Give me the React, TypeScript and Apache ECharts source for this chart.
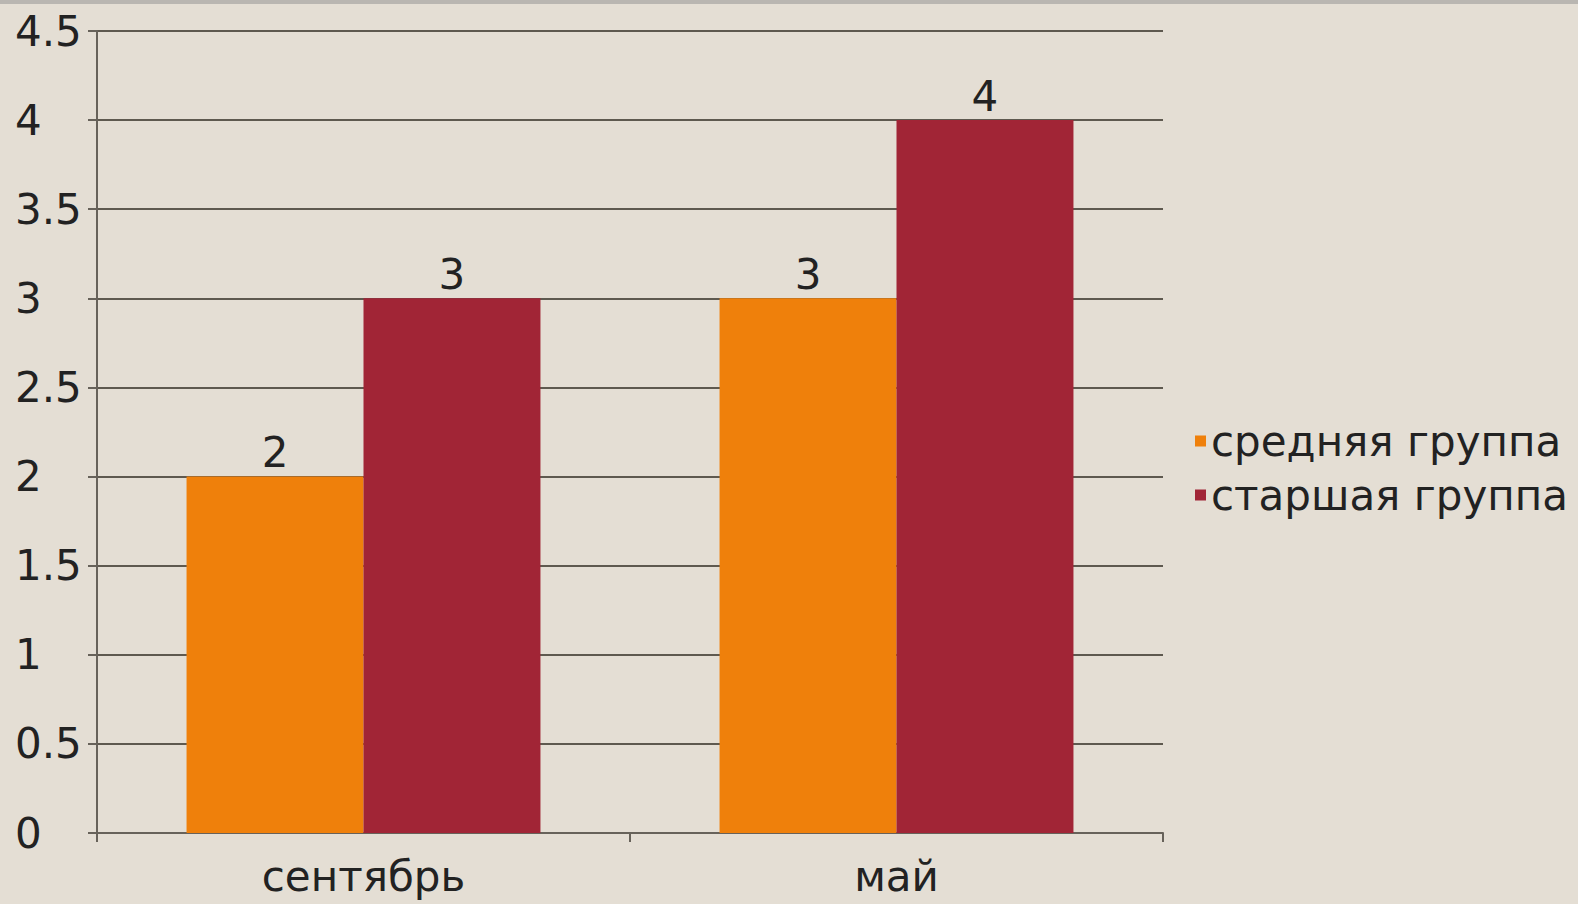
import React, { useEffect, useRef } from "react";
import * as echarts from "echarts";

const categories = ["сентябрь", "май"];
const seriesNames = ["средняя группа", "старшая группа"];
const middleGroup = [2, 3];
const seniorGroup = [3, 4];
const colors = ["#EF800B", "#A12536"];

export default function App() {
  const ref = useRef<HTMLDivElement>(null);
  useEffect(() => {
    document.body.style.margin = "0";
    const chart = echarts.init(ref.current!, null, { renderer: "svg" });
    const font = "Verdana, 'DejaVu Sans', sans-serif";
    const fs = 42;
    const labelStyle = { show: true, position: "top", distance: 3, fontSize: fs, color: "#222", fontFamily: font };
    chart.setOption({
      animation: false,
      backgroundColor: "#E4DED4",
      textStyle: { fontFamily: font },
      graphic: [
        {
          type: "rect",
          shape: { x: 0, y: 0, width: 1578, height: 4 },
          style: { fill: "#B9B6B1" },
        },
      ],
      grid: { left: 97, right: 415, top: 31, bottom: 71 },
      legend: {
        orient: "vertical",
        left: 1190,
        top: 415,
        itemWidth: 11,
        itemHeight: 11,
        itemGap: 12,
        icon: "rect",
        textStyle: { fontSize: fs, color: "#222", fontFamily: font, padding: [0, 0, 0, 0] },
        data: seriesNames,
      },
      xAxis: {
        type: "category",
        data: categories,
        axisLine: { lineStyle: { color: "#67625A", width: 2 } },
        axisTick: { show: true, length: 9, lineStyle: { color: "#67625A", width: 2 } },
        axisLabel: { fontSize: fs, color: "#222", margin: 22, fontFamily: font },
      },
      yAxis: {
        type: "value",
        min: 0,
        max: 4.5,
        interval: 0.5,
        axisLine: { show: true, lineStyle: { color: "#67625A", width: 2 } },
        axisTick: { show: true, length: 9, lineStyle: { color: "#67625A", width: 2 } },
        splitLine: { lineStyle: { color: "#5E594F", width: 2 } },
        axisLabel: { fontSize: fs, color: "#222", align: "left", margin: 82, fontFamily: font },
      },
      series: [
        {
          name: seriesNames[0],
          type: "bar",
          data: middleGroup,
          itemStyle: { color: colors[0] },
          barGap: "0%",
          barCategoryGap: "33.6%",
          label: labelStyle,
        },
        {
          name: seriesNames[1],
          type: "bar",
          data: seniorGroup,
          itemStyle: { color: colors[1] },
          barGap: "0%",
          barCategoryGap: "33.6%",
          label: labelStyle,
        },
      ],
    });
    return () => chart.dispose();
  }, []);
  return <div ref={ref} style={{ width: 1578, height: 904, position: "absolute", left: 0, top: 0 }} />;
}
